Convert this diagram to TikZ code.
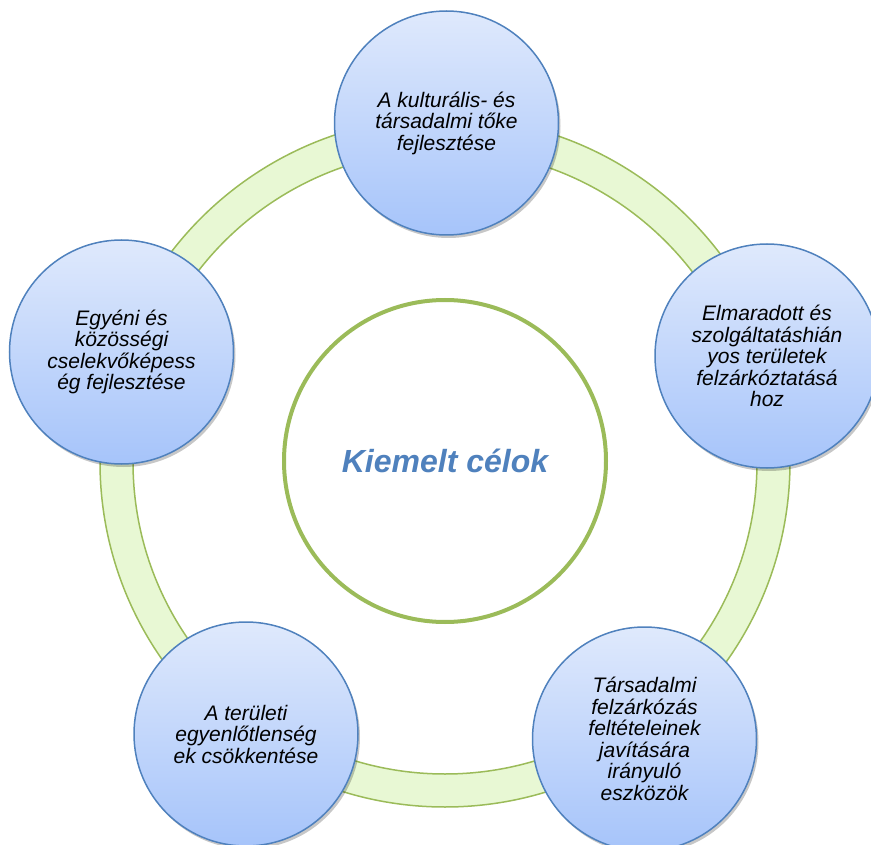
\documentclass[tikz,border=0pt]{standalone}
\usepackage{fontspec}
\setmainfont{Liberation Sans}
\usetikzlibrary{shadows}
\definecolor{ringfill}{RGB}{232,248,212}
\definecolor{ringline}{RGB}{155,187,89}
\definecolor{bubline}{RGB}{79,129,189}
\definecolor{bubtop}{RGB}{223,233,252}
\definecolor{bubbot}{RGB}{166,196,250}
\definecolor{titleblue}{RGB}{79,129,189}
\begin{document}
\begin{tikzpicture}[x=1pt,y=-1pt,
  bub/.style={circle, draw=bubline, line width=1.5pt, top color=bubtop, bottom color=bubbot,
    minimum size=224pt, inner sep=0pt, align=center,
    font=\itshape\fontsize{21}{21.5}\selectfont,
    drop shadow={shadow xshift=2pt, shadow yshift=-3pt, opacity=0.22, fill=black}},
  ringshadow/.style={fill=black, fill opacity=0.2, even odd rule, xshift=2pt, yshift=-3pt},
  ringstyle/.style={fill=ringfill, draw=ringline, line width=1.5pt, even odd rule},
  hub/.style={circle, draw=ringline, line width=4pt, fill=white, minimum size=322pt,
    inner sep=0pt, text=titleblue, font=\bfseries\itshape\fontsize{32}{32}\selectfont}]
\useasboundingbox (0,0) rectangle (871,845);
\coordinate (o) at (445,462);
\path[ringshadow] (o) circle (345pt) (o) circle (312pt);
\path[ringstyle] (o) circle (345pt) (o) circle (312pt);
\node[hub] (hubnode) at (445,461) {Kiemelt célok};
\node[bub] (top) at (446.5,123) {A kulturális- és\\társadalmi tőke\\fejlesztése};
\node[bub] (right) at (767,356) {Elmaradott és\\szolgáltatáshián\\yos területek\\felzárkóztatásá\\hoz};
\node[bub] (bright) at (644.5,739) {Társadalmi\\felzárkózás\\feltételeinek\\javítására\\irányuló\\eszközök};
\node[bub] (bleft) at (246,734) {A területi\\egyenlőtlenség\\ek csökkentése};
\node[bub] (left) at (121.5,352) {Egyéni és\\közösségi\\cselekvőképess\\ég fejlesztése};
\end{tikzpicture}
\end{document}
